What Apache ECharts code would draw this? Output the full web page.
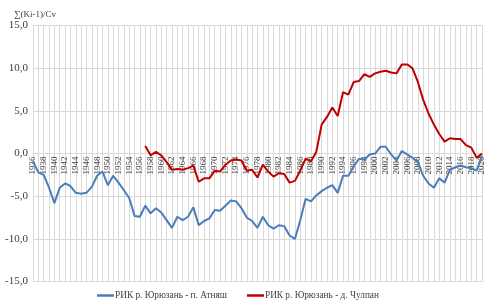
<!DOCTYPE html>
<html><head><meta charset="utf-8">
<script src="https://cdn.jsdelivr.net/npm/echarts@6/dist/echarts.min.js"></script>
<style>html,body{margin:0;padding:0;background:#fff}#c{width:497px;height:308px}</style>
</head><body><div id="c"></div>
<script>
var years = [];
for (var y = 1936; y <= 2020; y++) years.push(String(y));
var atnyash = [-0.9,-2.2,-2.5,-4.0,-5.8,-4.0,-3.5,-3.8,-4.6,-4.7,
 -4.6,-3.9,-2.6,-2.1,-3.7,-2.6,-3.4,-4.3,-5.2,-7.3,
 -7.4,-6.1,-7.0,-6.4,-6.9,-7.8,-8.7,-7.4,-7.8,-7.4,
 -6.3,-8.4,-7.9,-7.6,-6.6,-6.7,-6.1,-5.5,-5.6,-6.4,
 -7.5,-7.9,-8.7,-7.4,-8.4,-8.8,-8.4,-8.5,-9.6,-10.0,
 -7.8,-5.3,-5.6,-4.9,-4.4,-4.0,-3.7,-4.6,-2.6,-2.6,
 -1.5,-0.6,-0.7,-0.1,0.0,0.8,0.8,-0.1,-0.8,0.3,
 -0.1,-0.5,-1.0,-2.6,-3.5,-4.0,-2.9,-3.4,-1.9,-1.6,
 -1.4,-1.6,-1.7,-2.0,-0.3];
var chulpanStartYear = 1957;
var chulpanValues = [0.9,-0.2,0.2,-0.2,-1.0,-1.9,-1.8,-1.9,-1.7,-1.4,
 -3.3,-2.9,-2.9,-2.0,-2.1,-1.3,-0.8,-0.7,-0.8,-2.0,
 -1.9,-2.8,-1.3,-2.1,-2.7,-2.3,-2.4,-3.4,-3.2,-2.0,
 -0.6,-0.9,0.2,3.4,4.3,5.4,4.4,7.2,6.9,8.4,
 8.5,9.3,9.0,9.4,9.6,9.7,9.5,9.4,10.45,10.45,
 10.0,8.4,6.3,4.7,3.4,2.3,1.4,1.8,1.7,1.7,
 1.0,0.7,-0.5,0.0];
var seriesNames = ['РИК р. Юрюзань - п. Атняш', 'РИК р. Юрюзань - д. Чулпан'];
var yTitle = '∑(Ki-1)/Cv';

var chulpan = years.map(function (yr) {
  var i = Number(yr) - chulpanStartYear;
  return i >= 0 ? chulpanValues[i] : null;
});

var font = '"Liberation Serif","Times New Roman",serif';
var gridTop = 25.6, gridBottom = 26.4, H = 308;
var plotH = H - gridTop - gridBottom;
var chart = echarts.init(document.getElementById('c'), null, {renderer: 'canvas'});
chart.setOption({
  animation: false,
  title: {text: yTitle, left: 9, top: 5, textStyle: {fontFamily: font, fontSize: 9, fontWeight: 'normal', color: '#404040'}},
  grid: {left: 33, right: 15, top: gridTop, bottom: gridBottom, containLabel: false},
  legend: {
    bottom: 3, left: 92, itemWidth: 17, itemHeight: 2.5, itemGap: 20,
    icon: 'rect',
    textStyle: {fontFamily: font, fontSize: 9.3, color: '#404040', padding: [0, 0, 0, -4]},
    data: seriesNames
  },
  xAxis: {
    type: 'category', data: years, boundaryGap: false,
    position: 'bottom', offset: -plotH / 2,
    axisLine: {onZero: false, lineStyle: {color: '#d9d9d9', width: 1}},
    axisTick: {show: false},
    axisLabel: {interval: 1, rotate: 90, fontFamily: font, fontSize: 9, color: '#404040', margin: 3},
    splitLine: {show: true, interval: 0, lineStyle: {color: '#d9d9d9', width: 1}}
  },
  yAxis: {
    type: 'value', min: -15, max: 15, interval: 5,
    axisLine: {show: false}, axisTick: {show: false},
    axisLabel: {fontFamily: font, fontSize: 11, color: '#404040', margin: 5,
      formatter: function (v) { return v.toFixed(1).replace('.', ','); }},
    splitLine: {lineStyle: {color: '#d9d9d9', width: 1}}
  },
  series: [
    {name: seriesNames[0], type: 'line', data: atnyash, showSymbol: false, symbol: 'none',
     lineStyle: {color: '#4a7ebb', width: 2}, itemStyle: {color: '#4a7ebb'}},
    {name: seriesNames[1], type: 'line', data: chulpan, showSymbol: false, symbol: 'none',
     lineStyle: {color: '#c00000', width: 2}, itemStyle: {color: '#c00000'}}
  ]
});
</script></body></html>
